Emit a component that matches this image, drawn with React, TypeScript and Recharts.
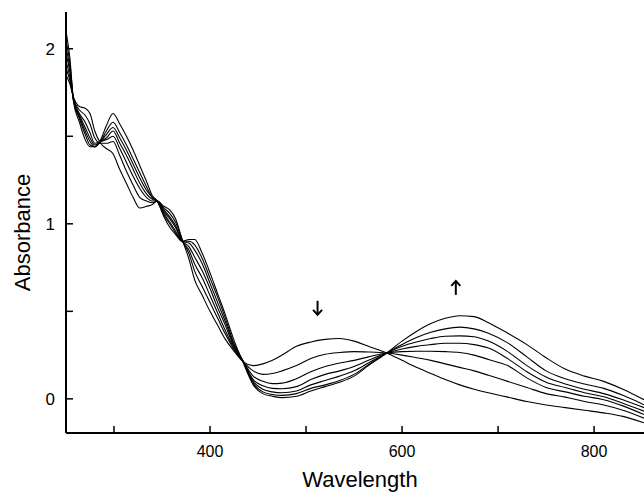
import React from 'react';
import { LineChart, Line, XAxis, YAxis, ReferenceDot } from 'recharts';

// wavelength grid (nm)
const wavelengths = [
  250, 254, 258, 264, 270, 275, 280, 286, 292, 299,
  306, 313, 320, 327, 334, 340, 345, 352, 358, 364,
  371, 378, 384, 392, 400, 408, 416, 424, 435, 445,
  455, 465, 475, 490, 505, 520, 535, 550, 565, 584,
  600, 615, 630, 645, 660, 675, 690, 710, 730, 750,
  770, 790, 810, 830, 852,
];

// absorbance of each spectrum, first (t0) to last (t6)
const t0 = [
  1.85, 1.80, 1.72, 1.67, 1.66, 1.63, 1.53, 1.46, 1.43, 1.40,
  1.31, 1.23, 1.15, 1.09, 1.10, 1.11, 1.13, 1.10, 1.08, 1.03,
  0.91, 0.80, 0.68, 0.59, 0.50, 0.42, 0.34, 0.28, 0.21, 0.19,
  0.20, 0.22, 0.25, 0.30, 0.325, 0.34, 0.345, 0.33, 0.30, 0.262,
  0.22, 0.18, 0.145, 0.11, 0.08, 0.055, 0.035, 0.01, -0.015, -0.035,
  -0.05, -0.065, -0.08, -0.10, -0.137,
];
const t1 = [
  1.89, 1.82, 1.71, 1.65, 1.62, 1.57, 1.49, 1.46, 1.46, 1.47,
  1.39, 1.30, 1.22, 1.15, 1.13, 1.12, 1.13, 1.09, 1.06, 1.01,
  0.91, 0.83, 0.73, 0.64, 0.55, 0.46, 0.37, 0.29, 0.21, 0.16,
  0.14, 0.145, 0.16, 0.19, 0.23, 0.255, 0.265, 0.27, 0.268, 0.262,
  0.25, 0.235, 0.22, 0.20, 0.18, 0.16, 0.135, 0.10, 0.065, 0.03,
  0.01, -0.015, -0.035, -0.065, -0.11,
];
const t2 = [
  1.93, 1.84, 1.71, 1.63, 1.58, 1.52, 1.46, 1.47, 1.48, 1.50,
  1.43, 1.35, 1.27, 1.20, 1.15, 1.13, 1.13, 1.08, 1.04, 0.99,
  0.90, 0.85, 0.77, 0.69, 0.59, 0.49, 0.39, 0.30, 0.21, 0.13,
  0.10, 0.087, 0.09, 0.115, 0.155, 0.185, 0.205, 0.22, 0.24, 0.262,
  0.27, 0.272, 0.272, 0.27, 0.265, 0.25, 0.225, 0.19, 0.12, 0.065,
  0.04, 0.015, -0.005, -0.04, -0.09,
];
const t3 = [
  1.97, 1.87, 1.70, 1.62, 1.55, 1.49, 1.45, 1.47, 1.49, 1.53,
  1.46, 1.39, 1.31, 1.23, 1.17, 1.14, 1.13, 1.07, 1.03, 0.98,
  0.90, 0.87, 0.81, 0.73, 0.63, 0.52, 0.42, 0.31, 0.21, 0.11,
  0.075, 0.06, 0.058, 0.07, 0.11, 0.14, 0.16, 0.185, 0.22, 0.262,
  0.285, 0.30, 0.31, 0.318, 0.318, 0.31, 0.29, 0.23, 0.155, 0.095,
  0.065, 0.035, 0.012, -0.025, -0.07,
];
const t4 = [
  2.01, 1.89, 1.70, 1.61, 1.53, 1.47, 1.44, 1.47, 1.51, 1.55,
  1.49, 1.42, 1.34, 1.26, 1.19, 1.15, 1.13, 1.06, 1.01, 0.96,
  0.90, 0.89, 0.85, 0.77, 0.66, 0.55, 0.44, 0.32, 0.21, 0.10,
  0.055, 0.04, 0.035, 0.045, 0.08, 0.105, 0.13, 0.16, 0.205, 0.262,
  0.30, 0.325, 0.345, 0.358, 0.36, 0.355, 0.33, 0.27, 0.19, 0.125,
  0.085, 0.055, 0.03, -0.005, -0.05,
];
const t5 = [
  2.05, 1.92, 1.70, 1.60, 1.51, 1.45, 1.44, 1.47, 1.53, 1.58,
  1.52, 1.45, 1.37, 1.29, 1.21, 1.15, 1.13, 1.05, 1.00, 0.95,
  0.90, 0.90, 0.88, 0.80, 0.69, 0.58, 0.46, 0.33, 0.21, 0.09,
  0.04, 0.025, 0.02, 0.03, 0.06, 0.08, 0.105, 0.14, 0.195, 0.262,
  0.31, 0.35, 0.38, 0.40, 0.41, 0.40, 0.375, 0.32, 0.24, 0.16,
  0.115, 0.085, 0.06, 0.02, -0.034,
];
const t6 = [
  2.10, 1.95, 1.69, 1.58, 1.48, 1.44, 1.44, 1.48, 1.56, 1.63,
  1.57, 1.50, 1.42, 1.33, 1.24, 1.16, 1.13, 1.04, 0.98, 0.94,
  0.90, 0.91, 0.91, 0.83, 0.72, 0.60, 0.48, 0.35, 0.20, 0.08,
  0.03, 0.015, 0.007, 0.015, 0.045, 0.07, 0.095, 0.13, 0.19, 0.262,
  0.33, 0.385, 0.43, 0.46, 0.475, 0.47, 0.435, 0.375, 0.31, 0.235,
  0.17, 0.13, 0.10, 0.055, -0.005,
];

const spectra = [t0, t1, t2, t3, t4, t5, t6];
const seriesKeys = ['t0', 't1', 't2', 't3', 't4', 't5', 't6'];

const xTicks = [300, 400, 500, 600, 700, 800];
const yTicks = [0, 0.5, 1, 1.5, 2];

// direction arrows: [wavelength, absorbance, direction]
const arrows: [number, number, 'down' | 'up'][] = [
  [512, 0.52, 'down'],
  [656, 0.634, 'up'],
];

const data = wavelengths.map((w, i) => {
  const row: any = { w };
  spectra.forEach((s, k) => { row[seriesKeys[k]] = s[i]; });
  return row;
});

const font = '"Liberation Sans", Arial, sans-serif';

const Arrow = ({ cx, cy, dir }: any) => {
  const h = 7;
  const tip = dir === 'down' ? cy + h : cy - h;
  const back = dir === 'down' ? tip - 5 : tip + 5;
  return (
    <g stroke="#000" strokeWidth={2} fill="none">
      <line x1={cx} y1={cy - h} x2={cx} y2={cy + h} />
      <polyline points={`${cx - 4.5},${back} ${cx},${tip} ${cx + 4.5},${back}`} />
    </g>
  );
};

export default function App() {
  return (
    <div style={{ position: 'absolute', left: 0, top: 0, background: '#fff' }}>
      <LineChart width={644} height={493} data={data} margin={{ top: 12, right: 0, bottom: 0, left: 0 }}>
        <XAxis
          dataKey="w"
          type="number"
          domain={[250, 852]}
          allowDataOverflow
          ticks={xTicks}
          tickFormatter={(v) => (v % 200 === 0 ? String(v) : '')}
          height={60}
          tickSize={-7}
          tickMargin={20}
          axisLine={{ stroke: '#000', strokeWidth: 2 }}
          tickLine={{ stroke: '#000', strokeWidth: 1.5 }}
          tick={{ fill: '#000', fontSize: 16, fontFamily: font }}
          label={{ value: 'Wavelength', position: 'insideBottom', offset: 6, dx: 5, fill: '#000', fontSize: 22, fontFamily: font }}
        />
        <YAxis
          type="number"
          domain={[-0.195, 2.21]}
          allowDataOverflow
          ticks={yTicks}
          tickFormatter={(v) => (Number.isInteger(v) ? String(v) : '')}
          width={66}
          tickSize={-7}
          tickMargin={18}
          axisLine={{ stroke: '#000', strokeWidth: 2 }}
          tickLine={{ stroke: '#000', strokeWidth: 1.5 }}
          tick={{ fill: '#000', fontSize: 17, fontFamily: font }}
          label={{
            content: ({ viewBox }: any) => {
              const x = viewBox.x + 22;
              const y = viewBox.y + viewBox.height / 2 + 10;
              return (
                <text x={x} y={y} transform={`rotate(-90 ${x} ${y})`} textAnchor="middle" dominantBaseline="central"
                  fill="#000" fontSize={22} fontFamily={font}>
                  Absorbance
                </text>
              );
            },
          }}
        />
        {seriesKeys.map((k) => (
          <Line key={k} type="monotone" dataKey={k} stroke="#000" strokeWidth={1.1} dot={false} isAnimationActive={false} />
        ))}
        {arrows.map(([x, y, dir], i) => (
          <ReferenceDot key={i} x={x} y={y} r={0} shape={(p: any) => <Arrow cx={p.cx} cy={p.cy} dir={dir} />} />
        ))}
      </LineChart>
    </div>
  );
}
